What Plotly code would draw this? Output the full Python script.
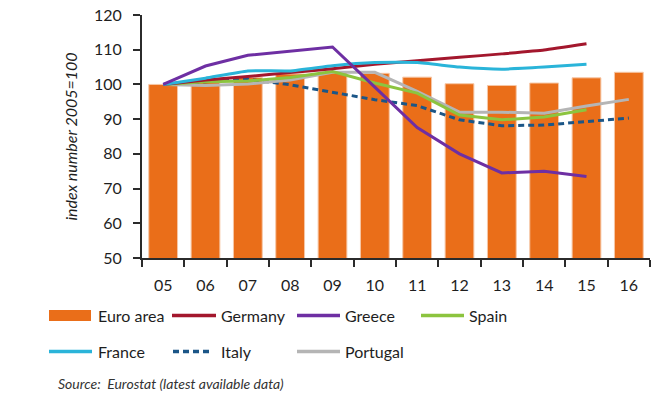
import plotly.graph_objects as go

years = ["05", "06", "07", "08", "09", "10", "11", "12", "13", "14", "15", "16"]
euro_area = [100.0, 101.0, 102.0, 103.0, 103.4, 103.2, 102.1, 100.2, 99.7, 100.4, 101.9, 103.5]
germany = [100.0, 101.3, 102.3, 103.4, 104.5, 105.8, 106.8, 107.8, 108.8, 109.9, 111.7]
greece = [100.0, 105.3, 108.4, 109.6, 110.8, 99.2, 87.6, 80.0, 74.5, 75.0, 73.5]
spain = [100.0, 100.8, 101.0, 102.0, 103.7, 100.4, 97.5, 91.2, 89.8, 90.6, 92.7]
france = [100.0, 101.8, 103.9, 103.9, 105.4, 106.3, 106.3, 105.0, 104.4, 105.0, 105.8]
italy = [100.0, 100.8, 101.5, 99.9, 97.7, 95.6, 93.9, 89.8, 88.1, 88.3, 89.3, 90.3]
portugal = [100.0, 99.7, 100.1, 101.3, 103.5, 103.5, 98.0, 92.0, 92.0, 91.7, 93.8, 95.7]

FONT = "Lato"
TXT = "#1e1e1e"
ITALY_DASH = "6px,4px"

line_series = [
    ("Germany", germany, "#a3172d", "solid", "spline"),
    ("Greece", greece, "#6e2fa3", "solid", "linear"),
    ("Spain", spain, "#8cc43f", "solid", "linear"),
    ("France", france, "#2ab4d9", "solid", "spline"),
    ("Italy", italy, "#1b5687", ITALY_DASH, "linear"),
    ("Portugal", portugal, "#b5b5b5", "solid", "linear"),
]
draw_order = ["Italy", "Portugal", "Spain", "Germany", "France", "Greece"]

fig = go.Figure()
fig.add_trace(go.Bar(
    x=years, y=euro_area, name="Euro area",
    marker=dict(color="#ea6e19", line=dict(color="#f6c7a6", width=1)),
    showlegend=False,
))
lookup = {s[0]: s for s in line_series}
for nm in draw_order:
    name, vals, col, dash, shp = lookup[nm]
    ln = dict(color=col, width=3, dash=dash, shape=shp)
    if shp == "spline":
        ln["smoothing"] = 0.4
    fig.add_trace(go.Scatter(
        x=years[:len(vals)], y=vals, name=name, mode="lines",
        line=ln, showlegend=False,
    ))

L, T, W, H = 142, 15, 508, 243
def px(x):
    return (x - L) / W
def py(y):
    return (T + H - y) / H

shapes = []
annotations = []
legend_items = [
    ("Euro area", "rect", "#ea6e19", "solid", 49, 91, 315.5, 96),
    ("Germany", "line", "#a3172d", "solid", 172, 216, 315.5, 219),
    ("Greece", "line", "#6e2fa3", "solid", 297, 340, 315.5, 343),
    ("Spain", "line", "#8cc43f", "solid", 421, 464, 315.5, 467),
    ("France", "line", "#2ab4d9", "solid", 49, 92, 351.5, 96),
    ("Italy", "line", "#1b5687", ITALY_DASH, 173, 212, 351.5, 219),
    ("Portugal", "line", "#b5b5b5", "solid", 297, 340, 351.5, 343),
]
for name, kind, col, dash, x0, x1, yy, tx in legend_items:
    if kind == "rect":
        shapes.append(dict(type="rect", xref="paper", yref="paper",
                           x0=px(x0), x1=px(x1), y0=py(yy + 5.5), y1=py(yy - 5.5),
                           fillcolor=col, line=dict(width=0)))
    else:
        shapes.append(dict(type="line", xref="paper", yref="paper",
                           x0=px(x0), x1=px(x1), y0=py(yy), y1=py(yy),
                           line=dict(color=col, width=3.5, dash=dash)))
    annotations.append(dict(text=name, xref="paper", yref="paper",
                            x=px(tx), y=py(yy), xanchor="left", yanchor="middle",
                            showarrow=False, font=dict(family=FONT, size=16, color=TXT)))

annotations.append(dict(text="<i>Source:  Eurostat (latest available data)</i>",
                        xref="paper", yref="paper", x=px(56), y=py(383),
                        xanchor="left", yanchor="middle", showarrow=False,
                        font=dict(family=FONT, size=14, color="#333333")))

fig.update_layout(
    width=667, height=397, autosize=False,
    margin=dict(l=L, r=667 - L - W, t=T, b=397 - T - H, autoexpand=False),
    plot_bgcolor="white", paper_bgcolor="white",
    bargap=0.32,
    showlegend=False,
    shapes=shapes, annotations=annotations,
    font=dict(family=FONT, color=TXT),
)
fig.update_xaxes(
    type="category", range=[-0.5, 11.5], automargin=False,
    showline=True, linecolor="#2b2b2b", linewidth=2,
    ticks="outside", tickson="boundaries", ticklen=7, tickwidth=2, tickcolor="#2b2b2b",
    showgrid=False, tickfont=dict(family=FONT, size=16, color=TXT),
    ticklabelstandoff=12,
)
fig.update_yaxes(
    range=[50, 120], dtick=10, tick0=50, automargin=False,
    showline=True, linecolor="#2b2b2b", linewidth=2,
    ticks="outside", ticklen=7, tickwidth=2, tickcolor="#2b2b2b",
    showgrid=False, zeroline=False,
    tickfont=dict(family=FONT, size=16, color=TXT),
    ticklabelstandoff=8,
    title=dict(text="<i>index number 2005=100</i>", standoff=12,
               font=dict(family=FONT, size=16, color=TXT)),
)

fig.write_html(
    "out.html",
    config={"displayModeBar": False},
    post_script="document.body.style.margin='0px';document.body.style.overflow='hidden';",
)
